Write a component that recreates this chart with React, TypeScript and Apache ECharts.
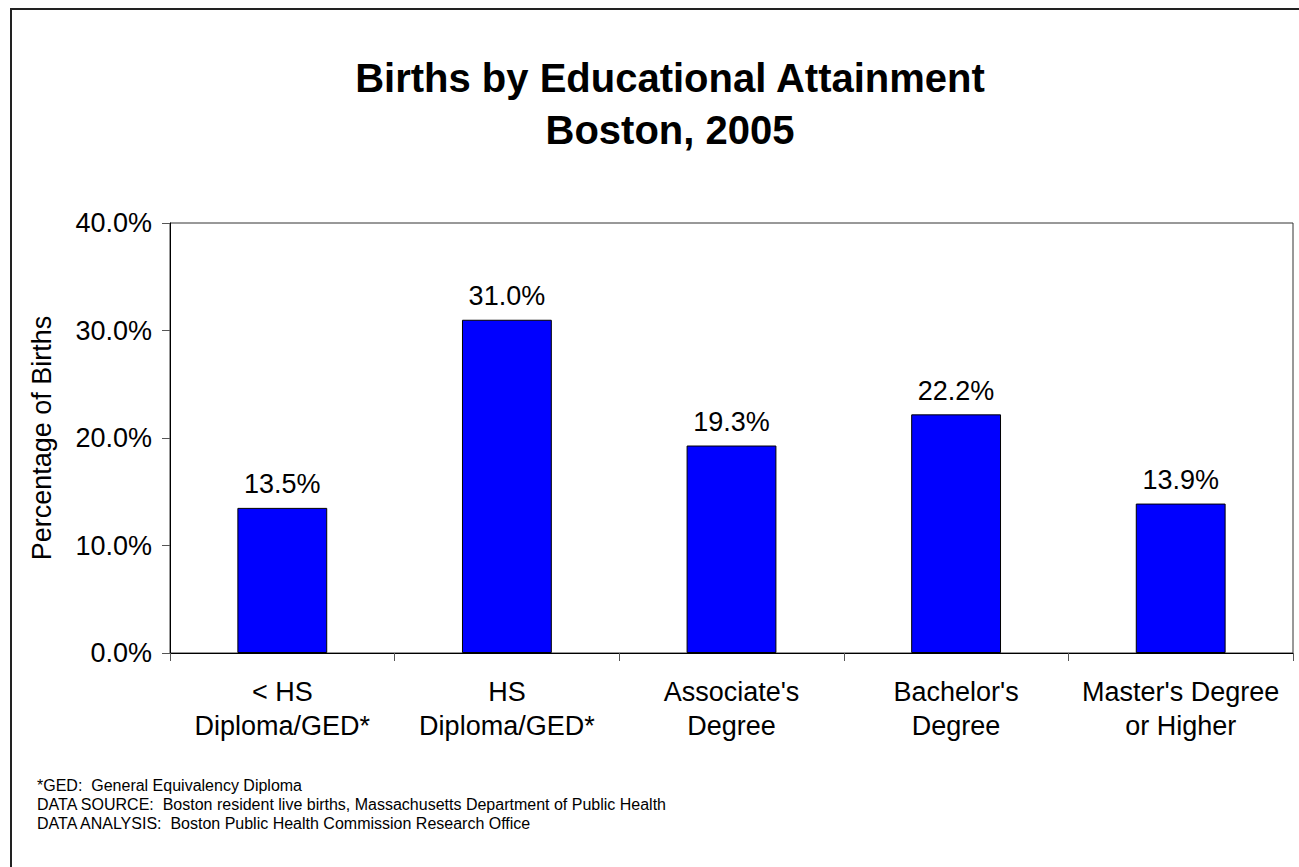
import React, { useEffect, useRef } from "react";
import * as echarts from "echarts";

const categories: string[] = [
  "< HS\nDiploma/GED*",
  "HS\nDiploma/GED*",
  "Associate's\nDegree",
  "Bachelor's\nDegree",
  "Master's Degree\nor Higher",
];
const values: number[] = [13.5, 31.0, 19.3, 22.2, 13.9];
const titleText = "Births by Educational Attainment\nBoston, 2005";
const yAxisName = "Percentage of Births";
const footnotes: string[] = [
  "*GED:  General Equivalency Diploma",
  "DATA SOURCE:  Boston resident live births, Massachusetts Department of Public Health",
  "DATA ANALYSIS:  Boston Public Health Commission Research Office",
];

const FONT = "'Liberation Sans', Arial, sans-serif";

export default function App() {
  const ref = useRef<HTMLDivElement>(null);
  useEffect(() => {
    if (!ref.current) return;
    const chart = echarts.init(ref.current, undefined, { renderer: "svg" });
    chart.setOption({
      animation: false,
      backgroundColor: "#fff",
      title: [
        {
          text: titleText,
          left: 665,
          top: 47,
          textAlign: "center",
          textStyle: {
            fontFamily: FONT,
            fontSize: 40,
            fontWeight: "bold",
            color: "#000",
            lineHeight: 52,
          },
        },
        {
          text: footnotes.join("\n"),
          left: 32,
          top: 771,
          textStyle: {
            fontFamily: FONT,
            fontSize: 16,
            fontWeight: "normal",
            color: "#000",
            lineHeight: 19,
          },
        },
      ],
      graphic: [
        {
          type: "rect",
          shape: { x: 11, y: 9, width: 1400, height: 1000 },
          style: { fill: "none", stroke: "#222", lineWidth: 2 },
          silent: true,
        },
      ],
      grid: {
        left: 170,
        top: 223,
        right: 6,
        bottom: 214,
        show: true,
        borderColor: "#333",
        borderWidth: 1,
        backgroundColor: "transparent",
      },
      xAxis: {
        type: "category",
        data: categories,
        axisLine: { lineStyle: { color: "#000", width: 1 } },
        axisTick: { show: true, alignWithLabel: false, length: 8, lineStyle: { color: "#555" } },
        axisLabel: {
          fontFamily: FONT,
          fontSize: 27,
          color: "#000",
          lineHeight: 34,
          margin: 22,
          interval: 0,
        },
      },
      yAxis: {
        type: "value",
        min: 0,
        max: 40,
        interval: 10,
        name: yAxisName,
        nameLocation: "middle",
        nameGap: 115,
        nameTextStyle: { fontFamily: FONT, fontSize: 27, color: "#000" },
        axisLine: { show: true, lineStyle: { color: "#000", width: 1 } },
        axisTick: { show: true, length: 8, lineStyle: { color: "#555" } },
        splitLine: { show: false },
        axisLabel: {
          fontFamily: FONT,
          fontSize: 27,
          color: "#000",
          margin: 18,
          formatter: (v: number) => v.toFixed(1) + "%",
        },
      },
      series: [
        {
          type: "bar",
          data: values,
          barWidth: "40%",
          itemStyle: { color: "#0000FF", borderColor: "#000", borderWidth: 1 },
          label: {
            show: true,
            position: "top",
            distance: 10,
            fontFamily: FONT,
            fontSize: 27,
            color: "#000",
            formatter: (p: any) => Number(p.value).toFixed(1) + "%",
          },
        },
      ],
    });
    return () => chart.dispose();
  }, []);
  return (
    <div
      ref={ref}
      style={{ position: "absolute", left: 0, top: 0, width: 1299, height: 867 }}
    />
  );
}
